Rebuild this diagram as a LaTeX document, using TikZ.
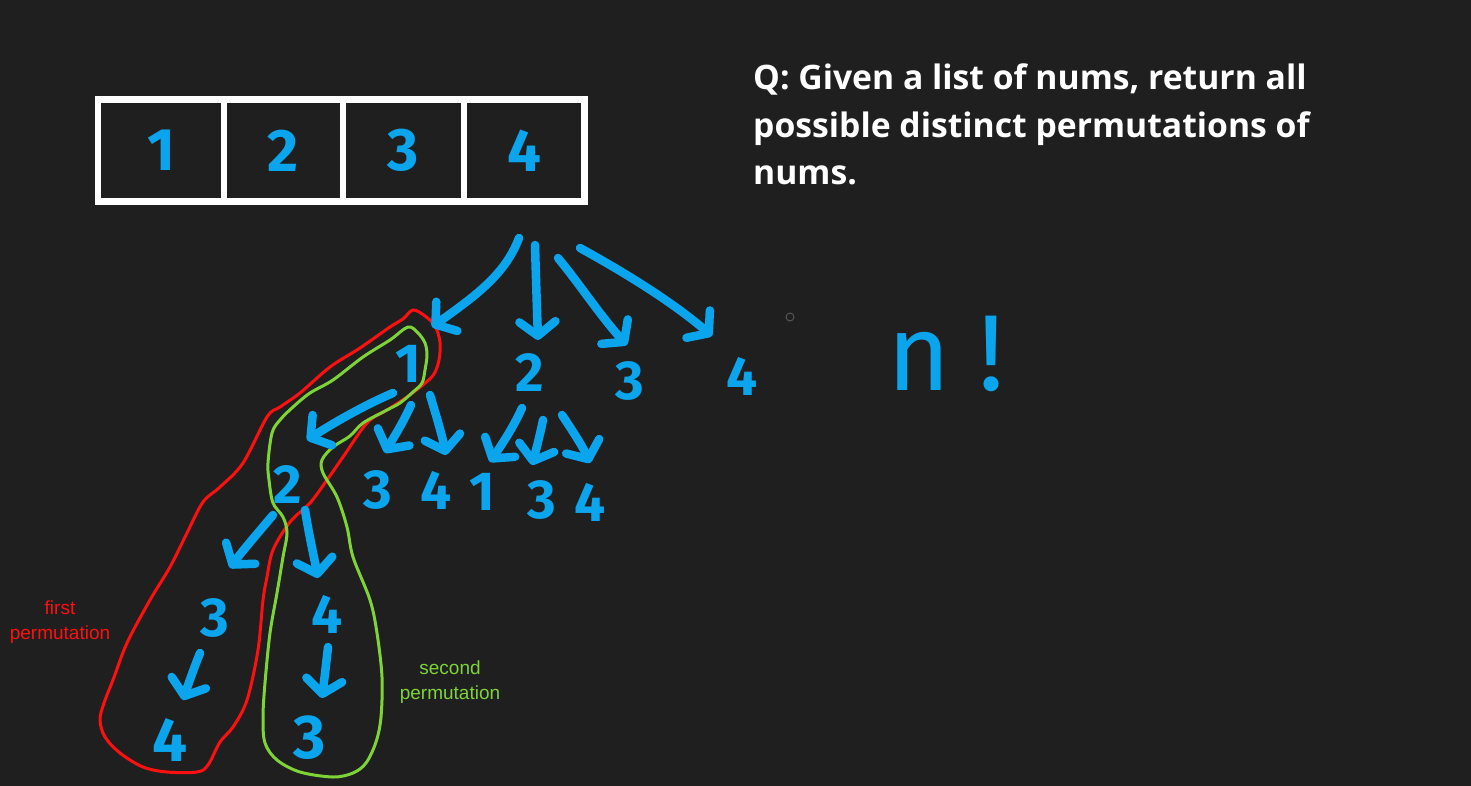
\documentclass[tikz,border=0pt]{standalone}
\usepackage{fontspec}
\setmainfont{Open Sans}
\newfontfamily\qfont{Open Sans}
\newfontfamily\lblfont{Liberation Sans}
\newfontfamily\handfont{Fira Sans}
\usetikzlibrary{arrows.meta}
\definecolor{bg}{HTML}{1F1F1F}
\definecolor{hblue}{HTML}{0AA5EC}
\definecolor{lred}{HTML}{FF1010}
\definecolor{lgreen}{HTML}{7ED337}
\definecolor{dotgray}{HTML}{555555}
\begin{document}
\begin{tikzpicture}[x=1pt,y=-1pt,
  arr/.style={draw=hblue, line width=8.5pt, line cap=round, line join=round,
    -{Straight Barb[length=14pt,width=36pt,round]}},
  cell/.style={draw=white, line width=6.5pt, fill=bg, minimum height=102pt, inner sep=0pt, outer sep=0pt,
    text=hblue, font=\handfont\bfseries\fontsize{60}{60}\selectfont},
  dig/.style={text=hblue, inner sep=0pt, font=\handfont\bfseries\fontsize{55}{55}\selectfont},
  bigdig/.style={dig, font=\handfont\bfseries\fontsize{62}{62}\selectfont},
  lasso/.style={line width=3pt, line join=round},
  lbl/.style={align=center, inner sep=0pt, font=\lblfont\fontsize{19}{25}\selectfont}
]
\useasboundingbox (0,0) rectangle (1471,786);
\fill[bg] (0,0) rectangle (1471,786);

% array
\node[cell, minimum width=126pt] (c1) at (161,150.5) {1};
\node[cell, minimum width=119pt] (c2) at (283.5,150.5) {2};
\node[cell, minimum width=121pt] (c3) at (403.5,150.5) {3};
\node[cell, minimum width=120.5pt] (c4) at (524.25,150.5) {4};

% question
\node[anchor=north west, align=left, inner sep=0pt, text=white,
  font=\qfont\bfseries\fontsize{33.7}{47.5}\selectfont] (q) at (753,64)
  {Q: Given a list of nums, return all\\possible distinct permutations of\\nums.};

% small grey circle
\node[draw=dotgray, circle, line width=1pt, minimum size=8pt, inner sep=0pt] (dot) at (790,317) {};

% n!
\node[text=hblue, inner sep=0pt, font=\handfont\fontsize{108}{108}\selectfont] (nfact) at (946,354) {n\kern28pt!};

% level 1 digits
\node[dig] (a1) at (408,364) {1};
\node[dig] (a2) at (530,373) {2};
\node[dig] (a3) at (630,381) {3};
\node[dig] (a4) at (742,376) {4};

% level 2 digits
\node[dig] (b12) at (288,485) {2};
\node[dig] (b13) at (378,490) {3};
\node[dig] (b14) at (436,490) {4};
\node[dig] (b21) at (482,492) {1};
\node[dig] (b23) at (542,500) {3};
\node[dig] (b24) at (590,502) {4};

% level 3 digits
\node[dig] (d3) at (215,618) {3};
\node[dig] (d4) at (327,614) {4};
\node[bigdig] (e4) at (170,740) {4};
\node[bigdig] (e3) at (310,738) {3};

% lassos
\draw[lasso, lred] plot[smooth cycle, tension=0.55] coordinates {
 (413,310) (425,316) (435,326) (440,342) (439,360) (434,374) (424,384)
 (407,397) (387,410) (367,423) (343,457) (327,480) (310,503) (290,522)
 (273,550) (267,577) (263,600) (258,650) (247,700) (233,727) (220,742)
 (208,765) (197,772) (167,772) (143,767) (120,753) (105,737) (100,720)
 (104,703) (113,680) (127,643) (150,600) (170,567) (187,533) (203,502)
 (220,487) (243,463) (267,417) (280,407) (300,393) (330,367) (360,348)
 (390,327) (403,319)};
\draw[lasso, lgreen] plot[smooth cycle, tension=0.55] coordinates {
 (408,327) (418,333) (425,343) (427,355) (425,370) (422,383) (413,392)
 (400,403) (387,410) (363,423) (350,436) (333,447) (322,460) (323,473)
 (337,497) (347,527) (353,557) (370,600) (377,633) (382,677) (381,717)
 (376,742) (366,763) (353,773) (333,777) (300,772) (277,760) (265,743)
 (263,717) (265,683) (270,633) (277,593) (283,557) (287,533) (283,517)
 (273,503) (269,480) (268,463) (272,433) (280,420) (293,407) (310,393)
 (333,380) (363,357) (390,340)};

% arrow end points
\coordinate (r1s) at (519,238); \coordinate (r1e) at (432,327);
\coordinate (r2s) at (535,245); \coordinate (r2e) at (538,340);
\coordinate (r3s) at (558,258); \coordinate (r3e) at (627,345);
\coordinate (r4s) at (580,248); \coordinate (r4e) at (712,336);
\coordinate (p1s) at (393,393); \coordinate (p1e) at (307,440);
\coordinate (p2s) at (411,405); \coordinate (p2e) at (385,453);
\coordinate (p3s) at (430,395); \coordinate (p3e) at (446,455);
\coordinate (p4s) at (522,408); \coordinate (p4e) at (490,462);
\coordinate (p5s) at (543,420); \coordinate (p5e) at (532,465);
\coordinate (p6s) at (562,415); \coordinate (p6e) at (590,463);
\coordinate (s1s) at (273,515); \coordinate (s1e) at (230,568);
\coordinate (s2s) at (305,510); \coordinate (s2e) at (318,578);
\coordinate (s3s) at (200,653); \coordinate (s3e) at (183,700);
\coordinate (s4s) at (328,647); \coordinate (s4e) at (322,698);

% arrows
\draw[arr] (r1s) .. controls (505,275) and (475,296) .. (r1e);
\draw[arr] (r2s) .. controls (536,280) and (537,310) .. (r2e);
\draw[arr] (r3s) .. controls (578,282) and (602,318) .. (r3e);
\draw[arr] (r4s) .. controls (620,270) and (670,300) .. (r4e);
\draw[arr] (p1s) .. controls (365,405) and (335,422) .. (p1e);
\draw[arr] (p2s) .. controls (402,425) and (392,440) .. (p2e);
\draw[arr] (p3s) .. controls (436,415) and (442,435) .. (p3e);
\draw[arr] (p4s) .. controls (512,430) and (500,447) .. (p4e);
\draw[arr] (p5s) .. controls (540,435) and (536,450) .. (p5e);
\draw[arr] (p6s) .. controls (572,430) and (583,447) .. (p6e);
\draw[arr] (s1s) .. controls (258,533) and (243,550) .. (s1e);
\draw[arr] (s2s) .. controls (309,535) and (314,557) .. (s2e);
\draw[arr] (s3s) .. controls (194,668) and (188,685) .. (s3e);
\draw[arr] (s4s) .. controls (326,665) and (324,682) .. (s4e);

% labels
\node[lbl, text=lred] (first) at (60,622) {first\\permutation};
\node[lbl, text=lgreen] (second) at (450,682) {second\\permutation};
\end{tikzpicture}
\end{document}
